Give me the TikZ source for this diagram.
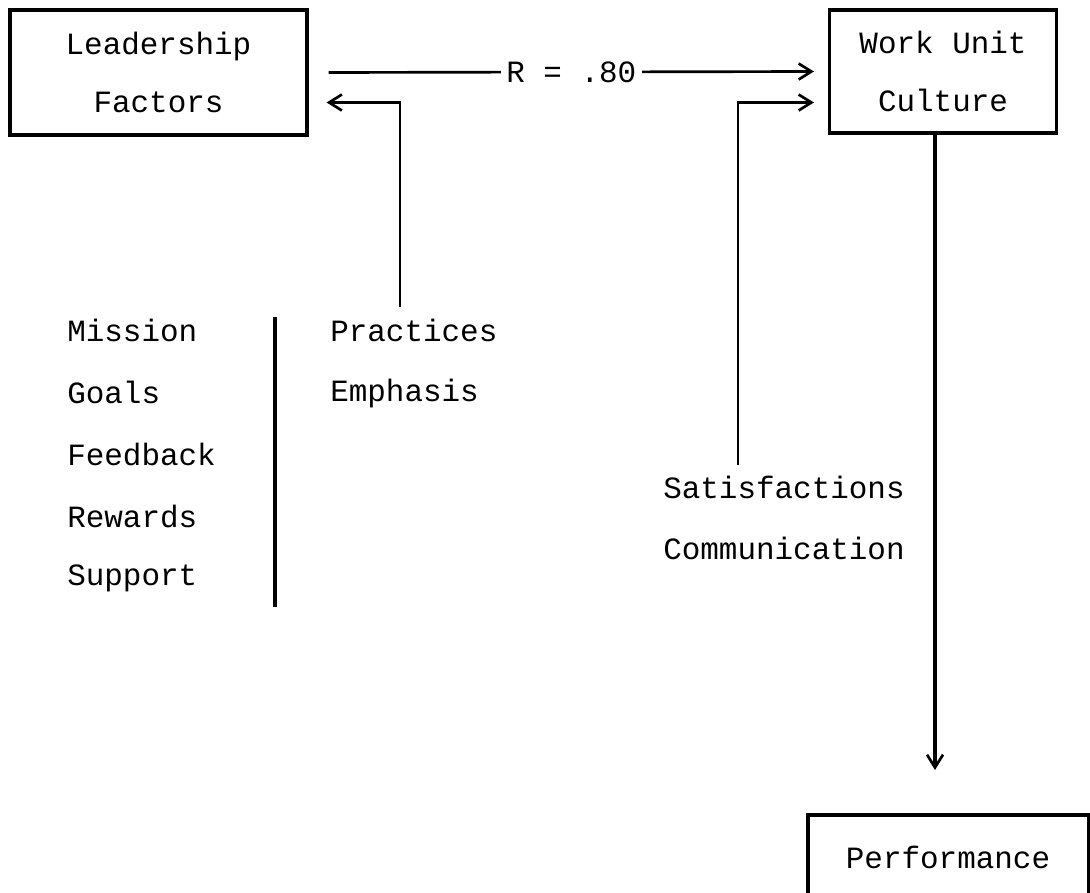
\documentclass[tikz,border=0pt]{standalone}
\usepackage{fontspec}
\setmonofont{Liberation Mono}
\usetikzlibrary{arrows.meta, calc}

\tikzset{
  box/.style={draw, line width=2.2pt, align=center, inner sep=0pt},
  lbl/.style={anchor=west, inner sep=0pt},
  arr/.style={line width=1.9pt, -{Straight Barb[length=3.2mm, width=4mm, line width=1.9pt]}}
}

\begin{document}
\begin{tikzpicture}[x=0.025cm, y=-0.025cm,
    every node/.style={font=\ttfamily\fontsize{22}{41}\selectfont}]
  \useasboundingbox (0,0) rectangle (1090,893);

  % Define the boxes
  \node[box, minimum width=7.425cm, minimum height=3.125cm] (lead) at (158.5,72.5) {Leadership\\Factors};
  \node[box, minimum width=5.675cm, minimum height=3.075cm] (work) at (943,71.5) {Work Unit\\Culture};
  \node[box, minimum width=7cm, minimum height=2.1cm] (perf) at (948,857) {Performance};

  % Label the lists
  \foreach \word [count=\i from 0] in {Mission, Goals, Feedback, Rewards, Support}
    \node[lbl] (lf\i) at (67,330+62*\i) {\word};
  \node[lbl] (prac) at (330,330) {Practices};
  \node[lbl] (emph) at (330,393) {Emphasis};
  \node[lbl] (sat) at (663,487) {Satisfactions};
  \node[lbl] (comm) at (663,548) {Communication};

  % Define the coordinates of the connectors
  \coordinate (p0) at (400,307);
  \coordinate (s0) at (738,465);
  \coordinate (d0) at (935,770);

  % Draw the connectors
  \draw[arr] ($(lead.east)+(20,0)$) -- node[fill=white, inner xsep=4pt, inner ysep=1pt] {R = .80}
    ($(work.west)+(-14,0)$);
  \draw[arr] (p0) |- ($(lead.east)+(18,30)$);
  \draw[arr] (s0) |- ($(work.west)+(-14,31)$);
  \draw[arr, line width=2.3pt] (work.south -| d0) -- (d0);
  \draw[line width=3pt] (275,317) -- (275,607);
\end{tikzpicture}
\end{document}
